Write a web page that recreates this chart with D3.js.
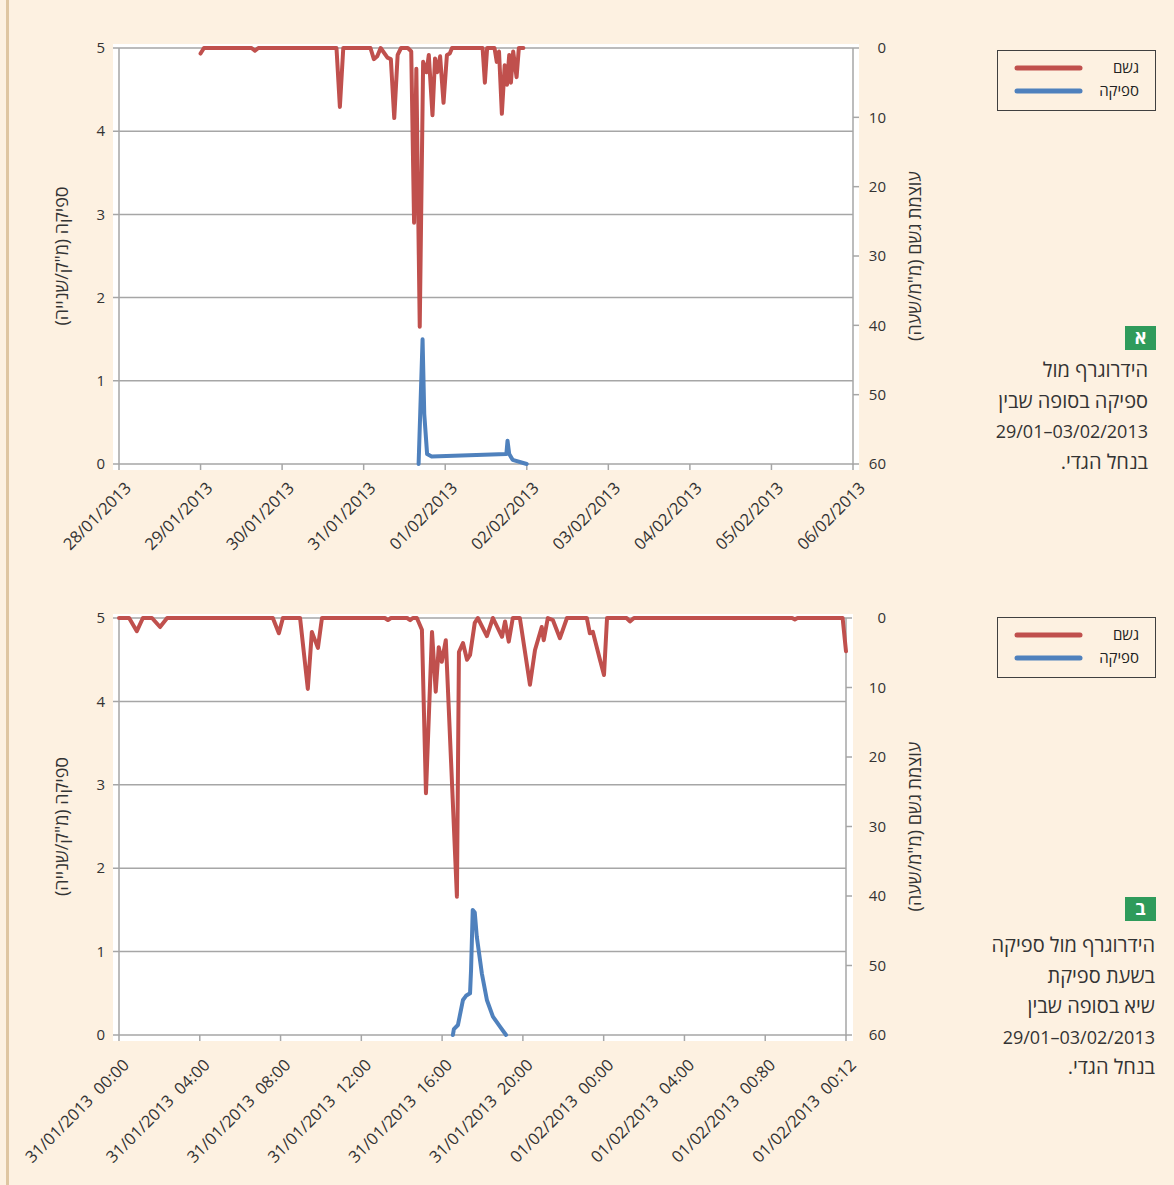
<!DOCTYPE html>
<html>
<head>
<meta charset="utf-8">
<script src="https://cdn.jsdelivr.net/npm/d3@7"></script>
<style>
  html, body { margin: 0; padding: 0; background: #fdf1e1; }
  svg { display: block; }
  text { font-family: "Open Sans", "Liberation Sans", "DejaVu Sans", sans-serif; }
</style>
</head>
<body>
<svg id="chart" width="1174" height="1185"></svg>
<script>
// ---------- Panel A: whole event, daily axis ----------
const topTickLabels = ["28/01/2013","29/01/2013","30/01/2013","31/01/2013","01/02/2013",
                       "02/02/2013","03/02/2013","04/02/2013","05/02/2013","06/02/2013"];

// rain intensity (mm/h)
const topRainTimes = ["29/01 00:00","29/01 01:00","29/01 15:00","29/01 16:00","29/01 17:00",
  "30/01 16:00","30/01 17:00","30/01 18:00","31/01 02:00","31/01 03:00","31/01 04:00","31/01 05:00",
  "31/01 07:00","31/01 08:00","31/01 09:00","31/01 10:00","31/01 11:00","31/01 13:00","31/01 14:00",
  "31/01 14:50","31/01 15:30","31/01 16:30","31/01 17:30","31/01 18:30","31/01 19:10","31/01 20:15",
  "31/01 21:00","31/01 21:40","31/01 22:30","31/01 23:30","01/02 00:30","01/02 01:20","01/02 02:00",
  "01/02 11:00","01/02 11:40","01/02 12:20","01/02 14:30","01/02 15:10","01/02 15:50","01/02 16:40",
  "01/02 17:30","01/02 18:10","01/02 18:50","01/02 19:20","01/02 20:00","01/02 21:00","01/02 21:40",
  "01/02 23:00"];
const topRainValues = [0.8,0,0,0.4,0,
  0,8.5,0,0,1.6,1.2,0,
  1.4,1.6,10.1,1.0,0,0,0.5,
  25.2,3.0,40.2,2.0,3.5,1.0,9.7,
  1.5,3.5,1.2,7.9,1.0,0.8,0,
  0,5.0,0,0,2.0,0.5,9.5,
  2.5,5.3,1.0,5.0,0.5,4.2,0,
  0];

// discharge (m3/s)
const topFlowTimes = ["31/01 16:10","31/01 17:20","31/01 17:50","31/01 18:40","31/01 20:00",
  "01/02 18:00","01/02 18:20","01/02 18:50","01/02 19:50","01/02 23:59"];
const topFlowValues = [0,1.5,0.6,0.12,0.09,0.12,0.28,0.12,0.05,0];

// ---------- Panel B: peak flow, 4-hour axis ----------
const bottomTickLabels = ["31/01/2013  00:00","31/01/2013  04:00","31/01/2013  08:00",
  "31/01/2013  12:00","31/01/2013  16:00","31/01/2013  20:00","01/02/2013  00:00",
  "01/02/2013  04:00","01/02/2013  00:80","01/02/2013  00:12"];

const bottomRainTimes = ["31/01 00:00","31/01 00:30","31/01 00:53","31/01 01:11","31/01 01:38",
  "31/01 02:02","31/01 02:23","31/01 07:37","31/01 07:55","31/01 08:07","31/01 08:58","31/01 09:21",
  "31/01 09:33","31/01 09:51","31/01 10:03","31/01 13:10","31/01 13:19","31/01 13:28","31/01 14:16",
  "31/01 14:25","31/01 14:33","31/01 14:45","31/01 15:00","31/01 15:12","31/01 15:30","31/01 15:41",
  "31/01 15:50","31/01 15:59","31/01 16:11","31/01 16:44","31/01 16:50","31/01 17:02","31/01 17:14",
  "31/01 17:23","31/01 17:37","31/01 17:46","31/01 18:13","31/01 18:31","31/01 18:58","31/01 19:07",
  "31/01 19:18","31/01 19:30","31/01 19:51","31/01 20:21","31/01 20:36","31/01 20:56","31/01 21:02",
  "31/01 21:14","31/01 21:29","31/01 21:50","31/01 22:11","31/01 23:10","31/01 23:19","31/01 23:28",
  "31/01 23:49","01/02 00:01","01/02 00:10","01/02 01:08","01/02 01:18","01/02 01:30","01/02 09:20",
  "01/02 09:28","01/02 09:36","01/02 11:50","01/02 12:00"];
const bottomRainValues = [0,0,1.9,0,0,
  1.3,0,0,2.2,0,0,10.2,
  2.0,4.3,0,0,0.3,0,0,
  0.3,0,0,1.7,25.2,2.0,10.6,
  4.2,6.3,3.2,40.1,4.9,3.6,6.0,
  5.3,0.7,0,2.6,0,2.7,0.5,
  3.4,0,0,9.6,4.6,1.3,3.2,
  0,0.3,2.9,0,0,2.2,2.0,
  6.0,8.2,0,0,0.5,0,0,
  0.2,0,0,4.8];

const bottomFlowTimes = ["31/01 16:32","31/01 16:35","31/01 16:47","31/01 17:02","31/01 17:11",
  "31/01 17:23","31/01 17:26","31/01 17:31","31/01 17:37","31/01 17:43","31/01 17:58","31/01 18:13",
  "31/01 18:31","31/01 18:52","31/01 19:10"];
const bottomFlowValues = [0,0.07,0.12,0.42,0.47,0.5,0.78,1.5,1.47,1.18,0.74,0.42,0.22,0.1,0];

// ---------- shared text ----------
const RLM = "\u200F";
const seriesNames = ["גשם", "ספיקה"];
const leftTitle = "ספיקה (מ\"ק/שנייה)";
const rightTitle = "עוצמת גשם (מ\"מ/שעה)";
const captionA = ["הידרוגרף מול", "ספיקה בסופה שבין", "29/01–03/02/2013", "בנחל הגדי."];
const captionB = ["הידרוגרף מול ספיקה", "בשעת ספיקת", "שיא בסופה שבין", "29/01–03/02/2013", "בנחל הגדי."];

const RED = "#c0504d", BLUE = "#4f81bd", GRID = "#a6a6a6", TXT = "#333333";

const parseFull = d3.timeParse("%d/%m/%Y %H:%M");
const parseShort = s => parseFull(s.replace(" ", "/2013 "));
const parseDay = d3.timeParse("%d/%m/%Y");

const svg = d3.select("#chart");

// page edge rule on the left
svg.append("line").attr("x1", 7.5).attr("x2", 7.5).attr("y1", 0).attr("y2", 1185)
  .attr("stroke", "#dfc6a2").attr("stroke-width", 3);

function drawPanel(cfg) {
  const g = svg.append("g");
  const x = d3.scaleTime().domain(cfg.xDomain).range([cfg.left, cfg.right]);
  const yL = d3.scaleLinear().domain([0, 5]).range([cfg.bottom, cfg.top]);
  const yR = d3.scaleLinear().domain([0, 60]).range([cfg.top, cfg.bottom]);

  // plot background
  g.append("rect").attr("x", cfg.left - 6).attr("y", cfg.top - 4)
    .attr("width", cfg.bgRight - cfg.left + 6).attr("height", cfg.bottom - cfg.top + 10)
    .attr("fill", "#ffffff");

  // horizontal gridlines with outward ticks on the left
  g.selectAll(".grid").data(yL.ticks(5)).join("line")
    .attr("x1", cfg.left - 6).attr("x2", cfg.right)
    .attr("y1", d => yL(d)).attr("y2", d => yL(d))
    .attr("stroke", GRID).attr("stroke-width", 1.5);

  // left and right axis lines
  g.append("line").attr("x1", cfg.left).attr("x2", cfg.left).attr("y1", cfg.top).attr("y2", cfg.bottom)
    .attr("stroke", GRID).attr("stroke-width", 1.5);
  g.append("line").attr("x1", cfg.right).attr("x2", cfg.right).attr("y1", cfg.top).attr("y2", cfg.bottom + 1)
    .attr("stroke", GRID).attr("stroke-width", 1.5);

  // right axis ticks
  g.selectAll(".rtick").data(yR.ticks(6)).join("line")
    .attr("x1", cfg.right).attr("x2", cfg.right + 6)
    .attr("y1", d => yR(d)).attr("y2", d => yR(d))
    .attr("stroke", GRID).attr("stroke-width", 1.5);

  // bottom axis ticks
  g.selectAll(".xtick").data(cfg.xTicks).join("line")
    .attr("x1", d => x(d)).attr("x2", d => x(d))
    .attr("y1", cfg.bottom).attr("y2", cfg.bottom + 6)
    .attr("stroke", GRID).attr("stroke-width", 1.5);

  // tick labels
  g.selectAll(".ll").data(yL.ticks(5)).join("text")
    .attr("x", cfg.left - 14).attr("y", d => yL(d)).attr("dy", "0.35em")
    .attr("text-anchor", "end").attr("font-size", 15).attr("fill", TXT)
    .text(d3.format("d"));
  g.selectAll(".rl").data(yR.ticks(6)).join("text")
    .attr("x", 886).attr("y", d => yR(d)).attr("dy", "0.35em")
    .attr("text-anchor", "end").attr("font-size", 15).attr("fill", TXT)
    .text(d3.format("d"));
  g.selectAll(".xl").data(cfg.xTicks).join("text")
    .attr("transform", d => `translate(${x(d) + cfg.labelDx},${cfg.bottom + cfg.labelDy}) rotate(-45)`)
    .attr("dy", "0.35em").attr("text-anchor", "end")
    .attr("font-size", 16.5).attr("fill", TXT)
    .text((d, i) => cfg.xLabels[i].replace(/ /g, "\u00a0"));

  // axis titles (both read bottom-to-top)
  const midY = (cfg.top + cfg.bottom) / 2;
  g.append("text").attr("transform", `translate(62,${midY}) rotate(-90)`)
    .attr("text-anchor", "middle").attr("dy", "0.35em")
    .attr("font-size", 18).attr("fill", TXT).text(RLM + leftTitle + RLM);
  g.append("text").attr("transform", `translate(915,${midY}) rotate(-90)`)
    .attr("text-anchor", "middle").attr("dy", "0.35em")
    .attr("font-size", 18).attr("fill", TXT).text(RLM + rightTitle + RLM);

  // series
  const rain = cfg.rainTimes.map((t, i) => ({ t: parseShort(t), v: cfg.rainValues[i] }));
  const flow = cfg.flowTimes.map((t, i) => ({ t: parseShort(t), v: cfg.flowValues[i] }));
  g.append("path").datum(rain)
    .attr("d", d3.line().x(d => x(d.t)).y(d => yR(d.v)))
    .attr("fill", "none").attr("stroke", RED).attr("stroke-width", 4)
    .attr("stroke-linejoin", "round").attr("stroke-linecap", "round");
  g.append("path").datum(flow)
    .attr("d", d3.line().x(d => x(d.t)).y(d => yL(d.v)))
    .attr("fill", "none").attr("stroke", BLUE).attr("stroke-width", 4)
    .attr("stroke-linejoin", "round").attr("stroke-linecap", "round");

  // legend
  const lg = svg.append("g").attr("transform", `translate(997,${cfg.legendY})`);
  lg.append("rect").attr("x", 0.5).attr("y", 0.5).attr("width", 158).attr("height", 60)
    .attr("fill", "none").attr("stroke", "#404040").attr("stroke-width", 1);
  [RED, BLUE].forEach((c, i) => {
    lg.append("line").attr("x1", 20).attr("x2", 83).attr("y1", 18 + i * 23).attr("y2", 18 + i * 23)
      .attr("stroke", c).attr("stroke-width", 5).attr("stroke-linecap", "round");
    lg.append("text").attr("x", 142).attr("y", 18 + i * 23).attr("dy", "0.35em")
      .attr("text-anchor", "end").attr("font-size", 15).attr("fill", "#222").text(seriesNames[i]);
  });

  // panel letter and caption
  const cg = svg.append("g");
  cg.append("rect").attr("x", 1125).attr("y", cfg.badgeY).attr("width", 31).attr("height", 24)
    .attr("fill", "#2f9b5b");
  cg.append("text").attr("x", 1140.5).attr("y", cfg.badgeY + 12).attr("dy", "0.36em")
    .attr("text-anchor", "middle").attr("font-size", 18).attr("font-weight", "bold")
    .attr("fill", "#ffffff").text(cfg.badge);
  cfg.caption.forEach((line, i) => {
    const isLatin = /^[0-9]/.test(line);
    cg.append("text").attr("x", cfg.captionX).attr("y", cfg.captionY + i * 30.5)
      .attr("text-anchor", "end").attr("font-size", isLatin ? 18 : 20).attr("fill", "#333")
      .text(isLatin ? line : RLM + line + RLM);
  });
}

drawPanel({
  left: 119, right: 853, bgRight: 859, top: 48, bottom: 464,
  xDomain: [parseDay("28/01/2013"), parseDay("06/02/2013")],
  xTicks: topTickLabels.map(parseDay), xLabels: topTickLabels,
  labelDx: 9, labelDy: 21,
  rainTimes: topRainTimes, rainValues: topRainValues,
  flowTimes: topFlowTimes, flowValues: topFlowValues,
  legendY: 50, badgeY: 326, badge: "א",
  caption: captionA, captionX: 1148, captionY: 377
});

const bTicks = d3.range(10).map(i => d3.timeHour.offset(parseFull("31/01/2013 00:00"), i * 4));
drawPanel({
  left: 119, right: 846, bgRight: 853, top: 618, bottom: 1035,
  xDomain: [bTicks[0], bTicks[9]],
  xTicks: bTicks, xLabels: bottomTickLabels,
  labelDx: 7, labelDy: 27,
  rainTimes: bottomRainTimes, rainValues: bottomRainValues,
  flowTimes: bottomFlowTimes, flowValues: bottomFlowValues,
  legendY: 617, badgeY: 897, badge: "ב",
  caption: captionB, captionX: 1155, captionY: 952
});
</script>
</body>
</html>
